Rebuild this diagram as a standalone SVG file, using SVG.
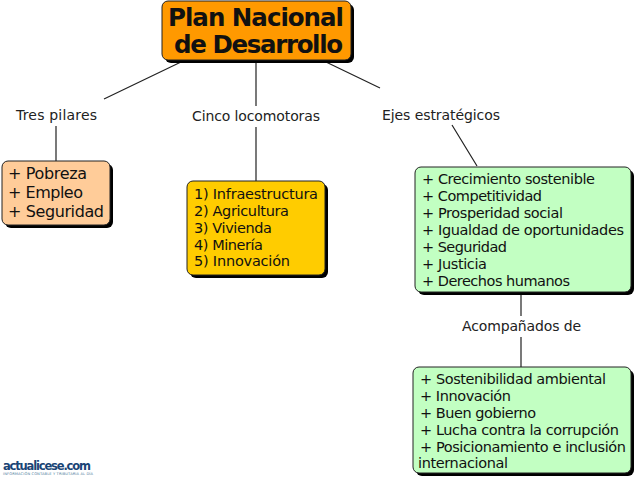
<svg xmlns="http://www.w3.org/2000/svg" width="637" height="480" viewBox="0 0 637 480">
<defs>
<style>
text{font-family:"DejaVu Sans",Verdana,sans-serif;fill:#111}
.t{font-size:14.5px}
.p{font-size:16px}
.l{font-size:14px;fill:#222}
.s{fill:#000}
.b{stroke:#222;stroke-width:1}
.c{stroke:#222;stroke-width:1.2;fill:none}
.g{fill:#c2ffc2}
</style>
</defs>
<rect width="637" height="480" fill="#fff"/>
<g id="connectors">
<path class="c" d="M181 62L104 99M256 62V106M326 62L380 88M56 126V161M256 127V181M452 125L477 166M521 294V316M521 337V367"/>
</g>
<g id="main">
<rect class="s" x="165" y="4" width="189" height="59" rx="6"/>
<rect class="b" x="162" y="1" width="189" height="59" rx="6" fill="#ff9900"/>
<text x="168" y="26" font-size="24.5" font-weight="bold" textLength="176">Plan Nacional</text>
<text x="174" y="53" font-size="24.5" font-weight="bold" textLength="169">de Desarrollo</text>
</g>
<g id="l1"><text class="l" x="16" y="120" textLength="81">Tres pilares</text></g>
<g id="l2"><text class="l" x="192" y="121" textLength="128">Cinco locomotoras</text></g>
<g id="l3"><text class="l" x="382" y="120" textLength="118">Ejes estratégicos</text></g>
<g id="l4"><text class="l" x="462" y="331" textLength="119">Acompañados de</text></g>
<g id="pilares">
<rect class="s" x="5" y="164" width="108" height="64" rx="6"/>
<rect class="b" x="2" y="161" width="108" height="64" rx="6" fill="#ffcc99"/>
<text class="p" x="8" y="179" textLength="79">+ Pobreza</text>
<text class="p" x="8" y="198" textLength="75">+ Empleo</text>
<text class="p" x="8" y="217" textLength="96">+ Seguridad</text>
</g>
<g id="locomotoras">
<rect class="s" x="190" y="184" width="138" height="94" rx="6"/>
<rect class="b" x="187" y="181" width="138" height="94" rx="6" fill="#ffcc00"/>
<text class="t" x="194" y="199" textLength="124">1) Infraestructura</text>
<text class="t" x="194" y="216" textLength="95">2) Agricultura</text>
<text class="t" x="194" y="233" textLength="78">3) Vivienda</text>
<text class="t" x="194" y="250" textLength="69">4) Minería</text>
<text class="t" x="194" y="266" textLength="96">5) Innovación</text>
</g>
<g id="ejes">
<rect class="s" x="418" y="170" width="216" height="125" rx="6"/>
<rect class="b g" x="415" y="167" width="216" height="125" rx="6"/>
<text class="t" x="422" y="184" textLength="173">+ Crecimiento sostenible</text>
<text class="t" x="422" y="201" textLength="120">+ Competitividad</text>
<text class="t" x="422" y="218" textLength="141">+ Prosperidad social</text>
<text class="t" x="422" y="235" textLength="202">+ Igualdad de oportunidades</text>
<text class="t" x="422" y="252" textLength="85">+ Seguridad</text>
<text class="t" x="422" y="269" textLength="65">+ Justicia</text>
<text class="t" x="422" y="286" textLength="148">+ Derechos humanos</text>
</g>
<g id="acompanados">
<rect class="s" x="416" y="370" width="218" height="106" rx="6"/>
<rect class="b g" x="413" y="367" width="218" height="106" rx="6"/>
<text class="t" x="420" y="384" textLength="186">+ Sostenibilidad ambiental</text>
<text class="t" x="420" y="401" textLength="91">+ Innovación</text>
<text class="t" x="420" y="418" textLength="116">+ Buen gobierno</text>
<text class="t" x="420" y="435" textLength="199">+ Lucha contra la corrupción</text>
<text class="t" x="420" y="452" textLength="206">+ Posicionamiento e inclusión</text>
<text class="t" x="418" y="468" textLength="90">internacional</text>
</g>
<g id="logo">
<text x="3" y="470" font-size="11.5" font-weight="bold" style="fill:#1a4475" textLength="88">actualicese.com</text>
<text x="3" y="475" font-size="3.6" style="fill:#4a7a9a" textLength="90">INFORMACIÓN CONTABLE Y TRIBUTARIA AL DÍA</text>
</g>
</svg>
